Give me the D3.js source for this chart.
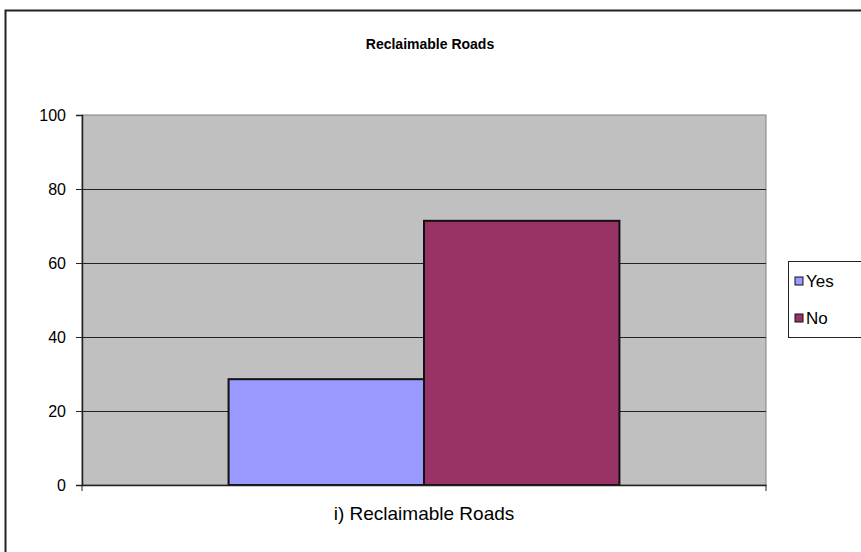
<!DOCTYPE html>
<html>
<head>
  <meta charset="utf-8">
  <script src="https://d3js.org/d3.v7.min.js"></script>
  <style>
    body { margin:0; background:#fff; }
    svg { display:block; font-family: Arial, "Liberation Sans", sans-serif; }
  </style>
</head>
<body>
<script>
  // chart values
  const categories = ["i) Reclaimable Roads"];
  const seriesNames = ["Yes", "No"];
  const seriesValues = [28.6, 71.4];
  const seriesColors = ["#9999FF", "#993366"];
  const yTicks = [0, 20, 40, 60, 80, 100];
  const title = "Reclaimable Roads";

  const width = 861, height = 552;
  const margin = { top: 115, right: 95, bottom: 67, left: 82 };
  const innerWidth = width - margin.left - margin.right;
  const innerHeight = height - margin.top - margin.bottom;

  const svg = d3.select("body").append("svg")
    .attr("width", width)
    .attr("height", height);

  // outer chart border (runs off the picture at right and bottom)
  svg.append("rect")
    .attr("x", 5.5).attr("y", 10.5)
    .attr("width", 880).attr("height", 580)
    .attr("fill", "#fff")
    .attr("stroke", "#222")
    .attr("stroke-width", 2);

  svg.append("text")
    .attr("x", 430).attr("y", 49)
    .attr("text-anchor", "middle")
    .attr("font-weight", "bold")
    .attr("font-size", 14)
    .text(title);

  const g = svg.append("g")
    .attr("transform", `translate(${margin.left},${margin.top})`);

  const x = d3.scaleBand().domain(categories).range([0, innerWidth]);
  const x1 = d3.scaleBand().domain(seriesNames)
    .range([0, x.bandwidth()]).paddingOuter(0.75).paddingInner(0);
  const y = d3.scaleLinear().domain([0, 100]).range([innerHeight, 0]);

  // plot area
  g.append("rect")
    .attr("width", innerWidth).attr("height", innerHeight)
    .attr("fill", "#C0C0C0")
    .attr("stroke", "#808080")
    .attr("stroke-width", 1);

  // gridlines
  g.append("g")
    .selectAll("line")
    .data(yTicks.filter(d => d > 0 && d < 100))
    .join("line")
    .attr("x1", 0).attr("x2", innerWidth)
    .attr("y1", d => Math.round(y(d)) + 0.5).attr("y2", d => Math.round(y(d)) + 0.5)
    .attr("stroke", "#222");

  // bars
  categories.forEach(cat => {
    g.append("g")
      .attr("transform", `translate(${x(cat)},0)`)
      .selectAll("rect")
      .data(seriesValues)
      .join("rect")
      .attr("x", (d, i) => x1(seriesNames[i]))
      .attr("y", d => y(d))
      .attr("width", x1.bandwidth())
      .attr("height", d => innerHeight - y(d))
      .attr("fill", (d, i) => seriesColors[i])
      .attr("stroke", "#111")
      .attr("stroke-width", 2);
  });

  // y axis
  const yAxis = d3.axisLeft(y).tickValues(yTicks).tickSize(6).tickPadding(10);
  const yg = g.append("g").call(yAxis);
  yg.select(".domain").attr("stroke", "#222").attr("stroke-width", 1.5);
  yg.selectAll(".tick line").attr("stroke", "#222");
  yg.selectAll("text").attr("font-size", 16).attr("fill", "#000");

  // x axis
  const xAxis = d3.axisBottom(x).tickSize(0).tickPadding(22);
  const xg = g.append("g")
    .attr("transform", `translate(0,${innerHeight})`)
    .call(xAxis);
  xg.select(".domain").attr("stroke", "#222").attr("stroke-width", 1.5);
  xg.selectAll("text").attr("font-size", 19).attr("fill", "#000");
  // category boundary ticks
  xg.selectAll(".edge")
    .data(x.range())
    .join("line")
    .attr("class", "edge")
    .attr("x1", d => d).attr("x2", d => d)
    .attr("y1", 0).attr("y2", 6)
    .attr("stroke", "#222");

  // legend
  const legend = svg.append("g").attr("transform", "translate(788,261)");
  legend.append("rect")
    .attr("x", 0.5).attr("y", 0.5)
    .attr("width", 90).attr("height", 76)
    .attr("fill", "#fff")
    .attr("stroke", "#222");
  const items = legend.selectAll(".item")
    .data(seriesNames)
    .join("g")
    .attr("class", "item")
    .attr("transform", (d, i) => `translate(0,${20 + i * 37})`);
  items.append("rect")
    .attr("x", 7).attr("y", -4)
    .attr("width", 8).attr("height", 8)
    .attr("fill", (d, i) => seriesColors[i])
    .attr("stroke", "#111");
  items.append("text")
    .attr("x", 18).attr("y", 0)
    .attr("dy", "0.35em")
    .attr("font-size", 17)
    .text(d => d);
</script>
</body>
</html>
